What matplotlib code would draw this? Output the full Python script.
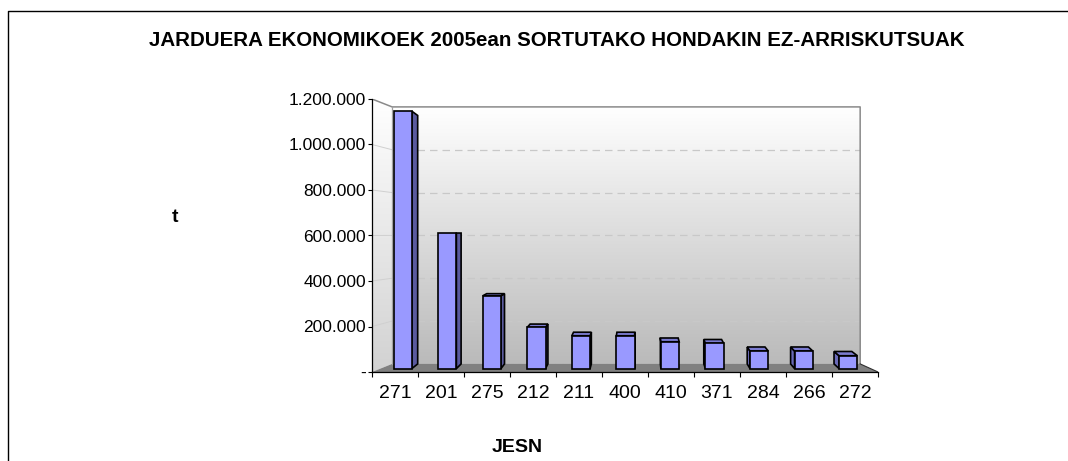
import numpy as np
import matplotlib
matplotlib.use('Agg')
import matplotlib.pyplot as plt
from matplotlib.patches import Polygon
from matplotlib.lines import Line2D
from matplotlib.colors import LinearSegmentedColormap

# data
codes = ['271', '201', '275', '212', '211', '400', '410', '371', '284', '266', '272']
tonnes = [1160000, 611000, 328000, 186000, 148000, 148000, 121000, 114000, 79000, 79000, 58000]
yticks = [0, 200000, 400000, 600000, 800000, 1000000, 1200000]

title = 'JARDUERA EKONOMIKOEK 2005ean SORTUTAKO HONDAKIN EZ-ARRISKUTSUAK'

plt.rcParams['font.family'] = ['Liberation Sans', 'DejaVu Sans']

W, H = 1068., 461.
fig = plt.figure(figsize=(W / 100., H / 100.), dpi=100)
ax = fig.add_axes([372. / W, (H - 372.) / H, 506. / W, 273. / H])

n = len(codes)
ymax = 1200000.

# fake 3d: points recede towards a vanishing point
kx, xv = 0.075, 5.83
ky, vv = 0.0586, 607000.


def proj(x, v, dx, dy=None):
    if dy is None:
        dy = dx
    return (x + dx * kx * (xv - x), v + dy * ky * (vv - v))


# back wall
bx0, by0 = proj(0., 0., 1.)
bx1, by1 = proj(n, ymax, 1.)
wall_cmap = LinearSegmentedColormap.from_list('wall', ['#bababa', '#ffffff'])
grad = np.linspace(0., 1., 256).reshape(-1, 1)
ax.imshow(grad, extent=[bx0, bx1, by0, by1], origin='lower', aspect='auto',
          cmap=wall_cmap, zorder=0, interpolation='bilinear')

# left side wall
side_pts = [(0., 0.), (0., ymax), proj(0., ymax, 1.), proj(0., 0., 1.)]
side_poly = Polygon(side_pts, closed=True, fc='none', ec='none')
ax.add_patch(side_poly)
side_cmap = LinearSegmentedColormap.from_list('side', ['#d2d2d2', '#ffffff'])
im = ax.imshow(grad, extent=[0., bx0, 0., ymax], origin='lower', aspect='auto',
               cmap=side_cmap, zorder=0, interpolation='bilinear')
im.set_clip_path(side_poly)

# floor
floor_pts = [(0., 0.), (n, 0.), proj(n, 0., 1.), proj(0., 0., 1.)]
ax.add_patch(Polygon(floor_pts, closed=True, fc='#808080', ec='none', zorder=0.5))
ax.plot([n, proj(n, 0., 1.)[0]], [0., proj(n, 0., 1.)[1]], color='#303030', lw=0.8, zorder=1)

# grid lines on the walls
for v in yticks[1:-1]:
    p0 = proj(0., v, 1.)
    p1 = proj(n, v, 1.)
    ax.plot([p0[0], p1[0]], [p0[1], p1[1]], color='#c8c8c8', lw=0.9,
            dashes=(6, 4), zorder=0.6)
    ax.plot([0., p0[0]], [v, p0[1]], color='#d0d0d0', lw=0.7, zorder=0.6)

# wall outlines
tl = proj(0., ymax, 1.)
tr = proj(n, ymax, 1.)
br = proj(n, 0., 1.)
bl = proj(0., 0., 1.)
ax.plot([0., tl[0], tr[0], br[0]], [ymax, tl[1], tr[1], br[1]], color='#8a8a8a', lw=1.1, zorder=0.7)
ax.plot([bl[0], tl[0]], [bl[1], tl[1]], color='#a0a0a0', lw=0.9, zorder=0.7)

# bars
half = 0.205
df = 0.42
dbx, dby = 0.75, 1.0
for i, v in enumerate(tonnes):
    x0 = i + 0.5 - half
    x1 = i + 0.5 + half
    fbl = proj(x0, 0., df)
    fbr = proj(x1, 0., df)
    ftl = proj(x0, v, df)
    ftr = proj(x1, v, df)
    bbl = proj(x0, 0., dbx, dby)
    bbr = proj(x1, 0., dbx, dby)
    btl = proj(x0, v, dbx, dby)
    btr = proj(x1, v, dbx, dby)
    faces = []
    if bbr[0] > fbr[0]:
        faces.append(([ftr, fbr, bbr, btr], '#5a5a9e'))
    if bbl[0] < fbl[0]:
        faces.append(([ftl, fbl, bbl, btl], '#6a6ab8'))
    if btl[1] > ftl[1]:
        faces.append(([ftl, ftr, btr, btl], '#7b7bd0'))
    faces.append(([fbl, fbr, ftr, ftl], '#9999ff'))
    for pts, c in faces:
        ax.add_patch(Polygon(pts, closed=True, fc=c, ec='black', lw=1.2,
                             joinstyle='miter', zorder=3))

ax.set_xlim(0, n)
ax.set_ylim(0, ymax)
ax.patch.set_visible(False)

for s in ['top', 'right']:
    ax.spines[s].set_visible(False)
for s in ['left', 'bottom']:
    ax.spines[s].set_color('black')
    ax.spines[s].set_linewidth(0.9)
    ax.spines[s].set_zorder(4)

ax.set_yticks(yticks)
ax.set_yticklabels(['-' if t == 0 else '{:,}'.format(t).replace(',', '.') for t in yticks])
ax.tick_params(axis='y', direction='out', length=3, width=0.8, pad=1.5, labelsize=12.5)

ax.set_xticks(np.arange(n) + 0.5)
ax.set_xticklabels(codes)
ax.set_xticks(np.arange(n + 1), minor=True)
ax.tick_params(axis='x', which='major', length=0, pad=9, labelsize=14)
ax.tick_params(axis='x', which='minor', direction='out', length=3.6, width=0.8)

fig.text(557. / W, 1. - 41. / H, title, ha='center', va='center',
         fontsize=14.8, fontweight='bold')
fig.text(175. / W, 1. - 217. / H, 't', ha='center', va='center',
         fontsize=14, fontweight='bold')
fig.text(517. / W, 1. - 447. / H, 'JESN', ha='center', va='center',
         fontsize=14, fontweight='bold')

# chart frame (only left and top edge are inside the picture)
fig.add_artist(Line2D([7.5 / W, 7.5 / W, 1.], [0., 1. - 11. / H, 1. - 11. / H],
                      transform=fig.transFigure, color='black', lw=1.))

fig.savefig('out.png', dpi=100)
